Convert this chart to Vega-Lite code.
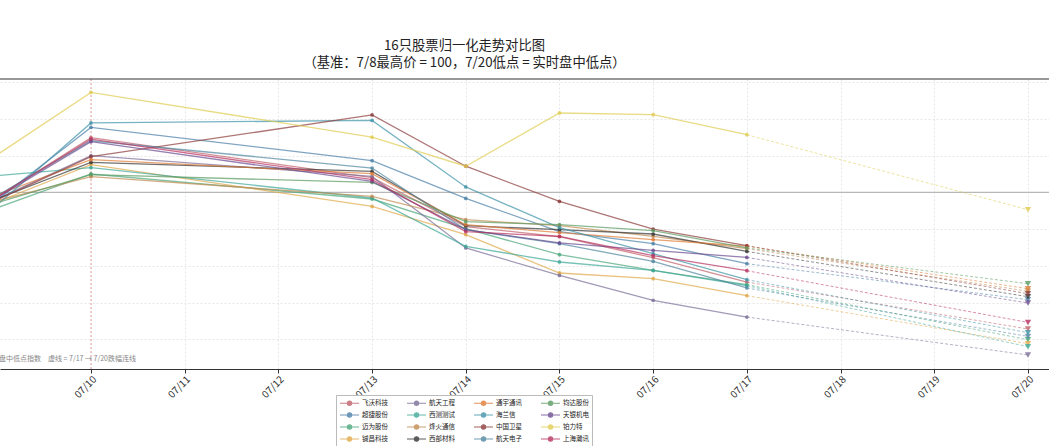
{
  "$schema": "https://vega.github.io/schema/vega-lite/v6.json",
  "width": 1049,
  "height": 290,
  "autosize": {"type": "none"},
  "padding": {"left": 0, "top": 79, "right": 0, "bottom": 77},
  "background": "white",
  "title": {
    "text": ["16只股票归一化走势对比图", "（基准：7/8最高价 = 100，7/20低点 = 实时盘中低点）"],
    "fontSize": 13.3,
    "fontWeight": "normal",
    "color": "#222",
    "anchor": "middle",
    "dx": -60,
    "offset": 9,
    "lineHeight": 17
  },
  "datasets": {
    "prices": [
      {"name": "飞沃科技", "date": "2026-07-09", "v": 99.41}, {"name": "飞沃科技", "date": "2026-07-10", "v": 107.45}, {"name": "飞沃科技", "date": "2026-07-13", "v": 102.00}, {"name": "飞沃科技", "date": "2026-07-14", "v": 95.33}, {"name": "飞沃科技", "date": "2026-07-15", "v": 93.96}, {"name": "飞沃科技", "date": "2026-07-16", "v": 91.10}, {"name": "飞沃科技", "date": "2026-07-17", "v": 87.79}, {"name": "飞沃科技", "date": "2026-07-20", "v": 81.39},
      {"name": "超捷股份", "date": "2026-07-09", "v": 99.01}, {"name": "超捷股份", "date": "2026-07-10", "v": 108.86}, {"name": "超捷股份", "date": "2026-07-13", "v": 104.32}, {"name": "超捷股份", "date": "2026-07-14", "v": 99.18}, {"name": "超捷股份", "date": "2026-07-15", "v": 94.65}, {"name": "超捷股份", "date": "2026-07-16", "v": 93.01}, {"name": "超捷股份", "date": "2026-07-17", "v": 90.29}, {"name": "超捷股份", "date": "2026-07-20", "v": 85.38},
      {"name": "迈为股份", "date": "2026-07-09", "v": 97.92}, {"name": "迈为股份", "date": "2026-07-10", "v": 102.51}, {"name": "迈为股份", "date": "2026-07-13", "v": 99.10}, {"name": "迈为股份", "date": "2026-07-14", "v": 95.05}, {"name": "迈为股份", "date": "2026-07-15", "v": 91.51}, {"name": "迈为股份", "date": "2026-07-16", "v": 89.37}, {"name": "迈为股份", "date": "2026-07-17", "v": 87.43}, {"name": "迈为股份", "date": "2026-07-20", "v": 79.93},
      {"name": "铖昌科技", "date": "2026-07-09", "v": 98.73}, {"name": "铖昌科技", "date": "2026-07-10", "v": 103.77}, {"name": "铖昌科技", "date": "2026-07-13", "v": 98.09}, {"name": "铖昌科技", "date": "2026-07-14", "v": 94.24}, {"name": "铖昌科技", "date": "2026-07-15", "v": 89.02}, {"name": "铖昌科技", "date": "2026-07-16", "v": 88.24}, {"name": "铖昌科技", "date": "2026-07-17", "v": 85.93}, {"name": "铖昌科技", "date": "2026-07-20", "v": 79.39},
      {"name": "航天工程", "date": "2026-07-09", "v": 99.14}, {"name": "航天工程", "date": "2026-07-10", "v": 105.00}, {"name": "航天工程", "date": "2026-07-13", "v": 102.18}, {"name": "航天工程", "date": "2026-07-14", "v": 92.43}, {"name": "航天工程", "date": "2026-07-15", "v": 88.69}, {"name": "航天工程", "date": "2026-07-16", "v": 85.29}, {"name": "航天工程", "date": "2026-07-17", "v": 83.02}, {"name": "航天工程", "date": "2026-07-20", "v": 77.85},
      {"name": "西测测试", "date": "2026-07-09", "v": 102.28}, {"name": "西测测试", "date": "2026-07-10", "v": 103.37}, {"name": "西测测试", "date": "2026-07-13", "v": 99.24}, {"name": "西测测试", "date": "2026-07-14", "v": 92.64}, {"name": "西测测试", "date": "2026-07-15", "v": 90.52}, {"name": "西测测试", "date": "2026-07-16", "v": 89.37}, {"name": "西测测试", "date": "2026-07-17", "v": 87.29}, {"name": "西测测试", "date": "2026-07-20", "v": 78.98},
      {"name": "烽火通信", "date": "2026-07-09", "v": 98.87}, {"name": "烽火通信", "date": "2026-07-10", "v": 102.14}, {"name": "烽火通信", "date": "2026-07-13", "v": 99.46}, {"name": "烽火通信", "date": "2026-07-14", "v": 96.28}, {"name": "烽火通信", "date": "2026-07-15", "v": 95.46}, {"name": "烽火通信", "date": "2026-07-16", "v": 94.01}, {"name": "烽火通信", "date": "2026-07-17", "v": 92.33}, {"name": "烽火通信", "date": "2026-07-20", "v": 86.54},
      {"name": "西部材料", "date": "2026-07-09", "v": 99.14}, {"name": "西部材料", "date": "2026-07-10", "v": 104.09}, {"name": "西部材料", "date": "2026-07-13", "v": 102.86}, {"name": "西部材料", "date": "2026-07-14", "v": 95.46}, {"name": "西部材料", "date": "2026-07-15", "v": 94.92}, {"name": "西部材料", "date": "2026-07-16", "v": 94.33}, {"name": "西部材料", "date": "2026-07-17", "v": 91.96}, {"name": "西部材料", "date": "2026-07-20", "v": 85.79},
      {"name": "通宇通讯", "date": "2026-07-09", "v": 99.69}, {"name": "通宇通讯", "date": "2026-07-10", "v": 104.46}, {"name": "通宇通讯", "date": "2026-07-13", "v": 102.55}, {"name": "通宇通讯", "date": "2026-07-14", "v": 95.60}, {"name": "通宇通讯", "date": "2026-07-15", "v": 94.51}, {"name": "通宇通讯", "date": "2026-07-16", "v": 93.56}, {"name": "通宇通讯", "date": "2026-07-17", "v": 92.67}, {"name": "通宇通讯", "date": "2026-07-20", "v": 86.88},
      {"name": "海兰信", "date": "2026-07-09", "v": 98.32}, {"name": "海兰信", "date": "2026-07-10", "v": 109.46}, {"name": "海兰信", "date": "2026-07-13", "v": 109.81}, {"name": "海兰信", "date": "2026-07-14", "v": 100.74}, {"name": "海兰信", "date": "2026-07-15", "v": 95.19}, {"name": "海兰信", "date": "2026-07-16", "v": 91.65}, {"name": "海兰信", "date": "2026-07-17", "v": 88.11}, {"name": "海兰信", "date": "2026-07-20", "v": 80.89},
      {"name": "中国卫星", "date": "2026-07-09", "v": 99.01}, {"name": "中国卫星", "date": "2026-07-10", "v": 104.86}, {"name": "中国卫星", "date": "2026-07-13", "v": 110.55}, {"name": "中国卫星", "date": "2026-07-14", "v": 103.57}, {"name": "中国卫星", "date": "2026-07-15", "v": 98.77}, {"name": "中国卫星", "date": "2026-07-16", "v": 95.01}, {"name": "中国卫星", "date": "2026-07-17", "v": 92.74}, {"name": "中国卫星", "date": "2026-07-20", "v": 86.20},
      {"name": "航天电子", "date": "2026-07-09", "v": 99.55}, {"name": "航天电子", "date": "2026-07-10", "v": 107.04}, {"name": "航天电子", "date": "2026-07-13", "v": 103.32}, {"name": "航天电子", "date": "2026-07-14", "v": 94.92}, {"name": "航天电子", "date": "2026-07-15", "v": 93.01}, {"name": "航天电子", "date": "2026-07-16", "v": 90.60}, {"name": "航天电子", "date": "2026-07-17", "v": 86.98}, {"name": "航天电子", "date": "2026-07-20", "v": 80.38},
      {"name": "钧达股份", "date": "2026-07-09", "v": 98.60}, {"name": "钧达股份", "date": "2026-07-10", "v": 102.41}, {"name": "钧达股份", "date": "2026-07-13", "v": 101.36}, {"name": "钧达股份", "date": "2026-07-14", "v": 96.01}, {"name": "钧达股份", "date": "2026-07-15", "v": 95.60}, {"name": "钧达股份", "date": "2026-07-16", "v": 94.78}, {"name": "钧达股份", "date": "2026-07-17", "v": 92.43}, {"name": "钧达股份", "date": "2026-07-20", "v": 87.56},
      {"name": "天银机电", "date": "2026-07-09", "v": 99.28}, {"name": "天银机电", "date": "2026-07-10", "v": 106.91}, {"name": "天银机电", "date": "2026-07-13", "v": 101.50}, {"name": "天银机电", "date": "2026-07-14", "v": 94.92}, {"name": "天银机电", "date": "2026-07-15", "v": 93.11}, {"name": "天银机电", "date": "2026-07-16", "v": 92.10}, {"name": "天银机电", "date": "2026-07-17", "v": 91.14}, {"name": "天银机电", "date": "2026-07-20", "v": 84.93},
      {"name": "铂力特", "date": "2026-07-09", "v": 105.14}, {"name": "铂力特", "date": "2026-07-10", "v": 113.62}, {"name": "铂力特", "date": "2026-07-13", "v": 107.52}, {"name": "铂力特", "date": "2026-07-14", "v": 103.57}, {"name": "铂力特", "date": "2026-07-15", "v": 110.82}, {"name": "铂力特", "date": "2026-07-16", "v": 110.59}, {"name": "铂力特", "date": "2026-07-17", "v": 107.86}, {"name": "铂力特", "date": "2026-07-20", "v": 97.64},
      {"name": "上海瀚讯", "date": "2026-07-09", "v": 99.41}, {"name": "上海瀚讯", "date": "2026-07-10", "v": 107.25}, {"name": "上海瀚讯", "date": "2026-07-13", "v": 101.73}, {"name": "上海瀚讯", "date": "2026-07-14", "v": 94.65}, {"name": "上海瀚讯", "date": "2026-07-15", "v": 94.01}, {"name": "上海瀚讯", "date": "2026-07-16", "v": 91.38}, {"name": "上海瀚讯", "date": "2026-07-17", "v": 89.33}, {"name": "上海瀚讯", "date": "2026-07-20", "v": 82.29}
    ],
    "base": [{"v": 100}],
    "mark710": [{"date": "2026-07-10"}]
  },
  "layer": [
    {
      "data": {"name": "base"},
      "mark": {"type": "rule", "color": "#b8b8b8", "strokeWidth": 1.2},
      "encoding": {
        "y": {
          "field": "v", "type": "quantitative",
          "scale": {"domain": [75.94, 115.45], "nice": false, "zero": false},
          "axis": {"values": [80, 85, 90, 95, 105, 110, 115], "labels": false, "ticks": false, "domain": false, "title": null, "grid": true, "gridDash": [2, 2], "gridColor": "#e6e6e6"}
        }
      }
    },
    {
      "data": {"name": "mark710"},
      "mark": {"type": "rule", "color": "#e8a0a0", "strokeDash": [2, 2], "strokeWidth": 1},
      "encoding": {
        "x": {
          "field": "date", "type": "temporal",
          "scale": {"type": "utc", "domain": [{"year": 2026, "month": 7, "date": 9, "hours": 0, "minutes": 42, "utc": true}, {"year": 2026, "month": 7, "date": 20, "hours": 5, "minutes": 23, "utc": true}]},
          "axis": {
            "values": [
              {"year": 2026, "month": 7, "date": 10, "utc": true}, {"year": 2026, "month": 7, "date": 11, "utc": true}, {"year": 2026, "month": 7, "date": 12, "utc": true}, {"year": 2026, "month": 7, "date": 13, "utc": true}, {"year": 2026, "month": 7, "date": 14, "utc": true}, {"year": 2026, "month": 7, "date": 15, "utc": true}, {"year": 2026, "month": 7, "date": 16, "utc": true}, {"year": 2026, "month": 7, "date": 17, "utc": true}, {"year": 2026, "month": 7, "date": 18, "utc": true}, {"year": 2026, "month": 7, "date": 19, "utc": true}, {"year": 2026, "month": 7, "date": 20, "utc": true}
            ],
            "format": "%m/%d", "title": null, "labelAngle": -45, "labelAlign": "right", "labelBaseline": "top",
            "labelFontSize": 10, "labelColor": "#333", "labelPadding": 1, "labelOverlap": false,
            "tickColor": "#333", "tickSize": 4, "domainColor": "#333",
            "grid": true, "gridDash": [2, 2], "gridColor": "#e6e6e6"
          }
        }
      }
    },
    {
      "data": {"name": "prices"},
      "transform": [{"filter": {"field": "date", "lte": {"year": 2026, "month": 7, "date": 17, "utc": true}}}],
      "mark": {"type": "line", "strokeWidth": 1.3, "opacity": 0.7},
      "encoding": {
        "x": {"field": "date", "type": "temporal"},
        "y": {"field": "v", "type": "quantitative"},
        "color": {
          "field": "name", "type": "nominal",
          "scale": {
            "domain": ["飞沃科技", "超捷股份", "迈为股份", "铖昌科技", "航天工程", "西测测试", "烽火通信", "西部材料", "通宇通讯", "海兰信", "中国卫星", "航天电子", "钧达股份", "天银机电", "铂力特", "上海瀚讯"],
            "range": ["#c0606a", "#4a7fa8", "#4aa67a", "#e0a848", "#7a6e98", "#3fa898", "#c08a50", "#333333", "#e07b35", "#3f93a8", "#8b3a3a", "#4f86a0", "#5a9a60", "#6a4a90", "#e0cc50", "#b83060"]
          },
          "legend": {
            "orient": "none", "legendX": 336, "legendY": 316, "columns": 4, "title": null,
            "symbolType": "M-1,0L3.75,0M0.825,0A0.55,0.55,0,1,0,1.925,0A0.55,0.55,0,1,0,0.825,0",
            "symbolSize": 64, "symbolStrokeWidth": 1.1, "symbolOpacity": 0.8,
            "labelFontSize": 6.5, "labelColor": "#222", "labelOffset": 13, "columnPadding": 16, "rowPadding": 2,
            "padding": 3, "strokeColor": "#bbbbbb", "fillColor": "white"
          }
        }
      }
    },
    {
      "data": {"name": "prices"},
      "transform": [{"filter": {"field": "date", "lte": {"year": 2026, "month": 7, "date": 17, "utc": true}}}],
      "mark": {"type": "circle", "size": 14, "opacity": 0.8},
      "encoding": {
        "x": {"field": "date", "type": "temporal"},
        "y": {"field": "v", "type": "quantitative"},
        "color": {"field": "name", "type": "nominal", "legend": null}
      }
    },
    {
      "data": {"name": "prices"},
      "transform": [{"filter": {"field": "date", "gte": {"year": 2026, "month": 7, "date": 17, "utc": true}}}],
      "mark": {"type": "line", "strokeWidth": 1, "strokeDash": [3, 2], "opacity": 0.55},
      "encoding": {
        "x": {"field": "date", "type": "temporal"},
        "y": {"field": "v", "type": "quantitative"},
        "color": {"field": "name", "type": "nominal", "legend": null}
      }
    },
    {
      "data": {"name": "prices"},
      "transform": [{"filter": {"field": "date", "gte": {"year": 2026, "month": 7, "date": 20, "utc": true}}}],
      "mark": {"type": "point", "shape": "triangle-down", "filled": true, "size": 40, "opacity": 0.8},
      "encoding": {
        "x": {"field": "date", "type": "temporal"},
        "y": {"field": "v", "type": "quantitative"},
        "color": {"field": "name", "type": "nominal", "legend": null}
      }
    },
    {
      "data": {"name": "base"},
      "mark": {"type": "rule", "color": "#333", "strokeWidth": 1},
      "encoding": {"y": {"datum": 115.45}}
    },
    {
      "data": {"name": "base"},
      "mark": {"type": "text", "align": "left", "baseline": "middle", "fontSize": 7, "color": "#888", "dx": -1},
      "encoding": {
        "x": {"datum": {"year": 2026, "month": 7, "date": 9, "hours": 0, "minutes": 42, "utc": true}},
        "y": {"datum": 77.3},
        "text": {"value": "盘中低点指数　虚线 = 7/17 → 7/20跌幅连线"}
      }
    }
  ],
  "config": {
    "view": {"stroke": null},
    "font": "Noto Sans CJK SC"
  }
}
